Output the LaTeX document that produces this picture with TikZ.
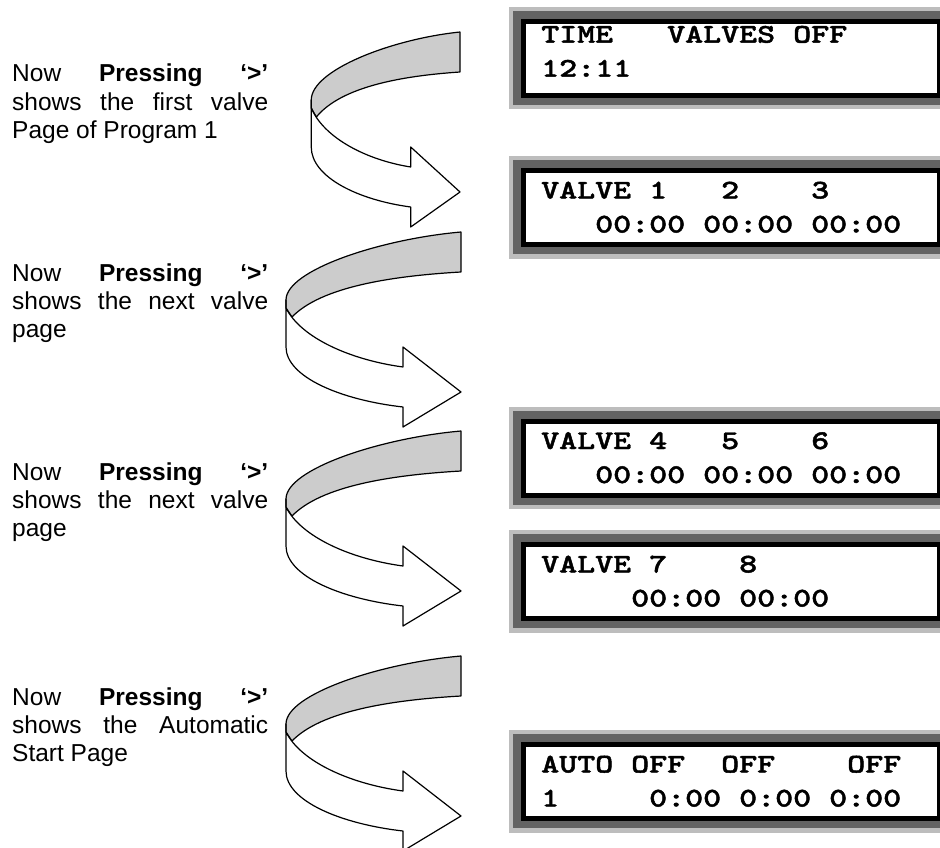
\documentclass[tikz,border=0pt]{standalone}
\usepackage{fontspec}
\setmainfont{Liberation Sans}
\newfontfamily\lcdfont{lmmonolt10-bold}[Extension=.otf, FakeStretch=1.27, FakeBold=1.6]
\definecolor{ribbon}{HTML}{CCCCCC}
\definecolor{lcdlight}{HTML}{BDBDBD}
\definecolor{lcddark}{HTML}{636363}
\newcommand{\turnarrow}{%
  \path[ribbonline, fill=ribbon] (0,0) .. controls (-80,7) and (-175,38) .. (-175,68)
     -- (-175,76) -- (-169,85) .. controls (-140,55) and (-70,44) .. (0,40) -- cycle;
  \path[ribbonline, fill=white] (-175,68) -- (-175,115)
     .. controls (-175,145) and (-120,168) .. (-58,175)
     -- (-58,195) -- (0,160) -- (-58,115) -- (-58,135)
     .. controls (-110,128) and (-160,106) .. (-175,76) -- cycle;}
\newcommand{\lcdframe}{%
  \fill[lcdlight] (509,0) rectangle (980,102.5);
  \fill[lcddark] (513,4) rectangle (980,98.3);
  \fill[black] (521,12) rectangle (942,91);
  \fill[white] (526,17) rectangle (936.7,86);}
\begin{document}
\begin{tikzpicture}[x=1pt,y=-1pt,
  ribbonline/.style={draw=black, line width=1.2pt, line join=round},
  lcdtext/.style={anchor=base west, inner sep=0pt, font=\lcdfont\fontsize{27}{27}\selectfont},
  note/.style={anchor=base west, inner sep=0pt, text width=256pt, align=justify,
    font=\fontsize{24.5}{28.3}\selectfont}]
\useasboundingbox (0,0) rectangle (940,848);
\clip (0,0) rectangle (940,848);
\fill[white] (0,0) rectangle (940,848);

% curved arrows
\begin{scope}[shift={(460,32)}, xscale=0.85] \turnarrow \end{scope}
\begin{scope}[shift={(461,232)}] \turnarrow \end{scope}
\begin{scope}[shift={(461,431)}] \turnarrow \end{scope}
\begin{scope}[shift={(461,656)}] \turnarrow \end{scope}

% LCD displays
\begin{scope}[shift={(0,6.7)}] \lcdframe
  \node[lcdtext] (lcdA1) at (541,36) {TIME~~~VALVES~OFF};
  \node[lcdtext] (lcdA2) at (541,70) {12:11};
\end{scope}
\begin{scope}[shift={(0,156)}] \lcdframe
  \node[lcdtext] (lcdB1) at (541,42.5) {VALVE~1~~~2~~~~3};
  \node[lcdtext] (lcdB2) at (541,76.5) {~~~00:00~00:00~00:00};
\end{scope}
\begin{scope}[shift={(0,406.5)}] \lcdframe
  \node[lcdtext] (lcdC1) at (541,42.5) {VALVE~4~~~5~~~~6};
  \node[lcdtext] (lcdC2) at (541,76.5) {~~~00:00~00:00~00:00};
\end{scope}
\begin{scope}[shift={(0,530)}] \lcdframe
  \node[lcdtext] (lcdD1) at (541,42.5) {VALVE~7~~~~8};
  \node[lcdtext] (lcdD2) at (541,76.5) {~~~~~00:00~00:00};
\end{scope}
\begin{scope}[shift={(0,730)}] \lcdframe
  \node[lcdtext] (lcdE1) at (541,42.5) {AUTO~OFF~~OFF~~~~OFF};
  \node[lcdtext] (lcdE2) at (541,76.5) {1~~~~~0:00~0:00~0:00};
\end{scope}

% notes
\node[note] (note1) at (12,82) {Now \textbf{Pressing} \textbf{‘>’}\linebreak shows the first valve\linebreak Page of Program 1};
\node[note] (note2) at (12,281) {Now \textbf{Pressing} \textbf{‘>’}\linebreak shows the next valve\linebreak page};
\node[note] (note3) at (12,480) {Now \textbf{Pressing} \textbf{‘>’}\linebreak shows the next valve\linebreak page};
\node[note] (note4) at (12,705) {Now \textbf{Pressing} \textbf{‘>’}\linebreak shows the Automatic\linebreak Start Page};
\end{tikzpicture}
\end{document}
